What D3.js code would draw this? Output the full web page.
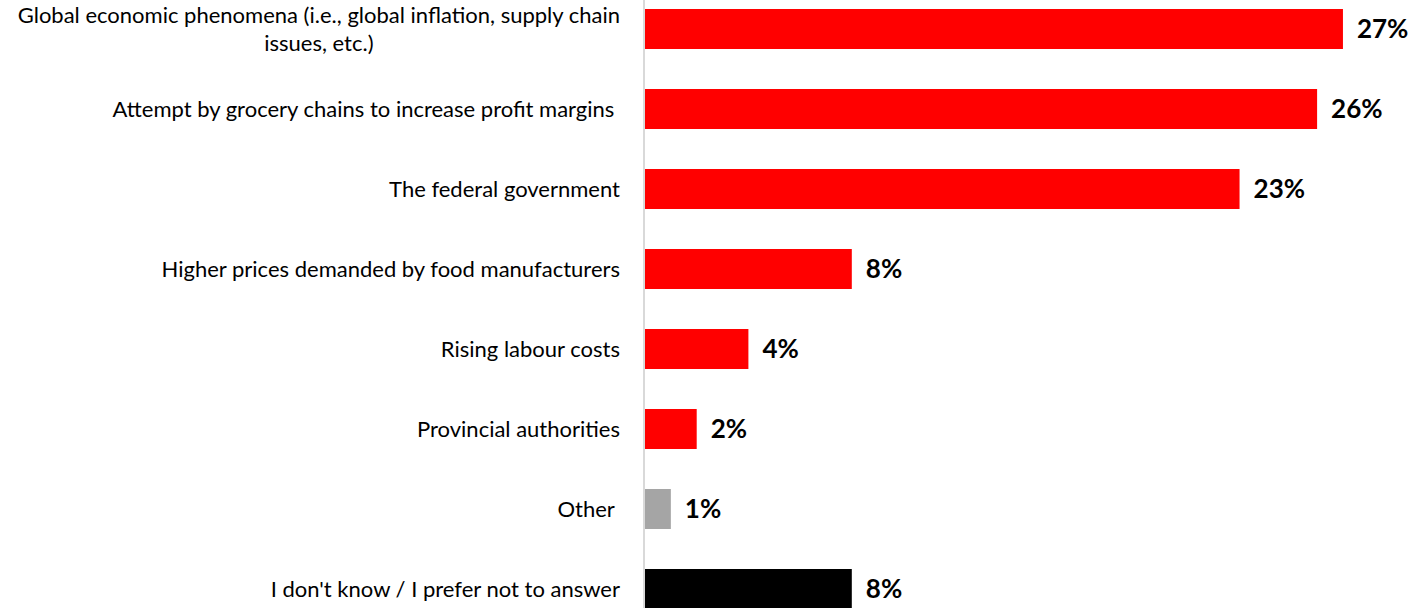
<!DOCTYPE html>
<html>
<head>
<meta charset="utf-8">
<script src="https://cdn.jsdelivr.net/npm/d3@7"></script>
<style>
  html, body { margin: 0; padding: 0; background: #fff; }
  svg { display: block; }
  text { font-family: Lato, "Open Sans", sans-serif; white-space: pre; }
</style>
</head>
<body>
<svg id="chart" width="1409" height="608"></svg>
<script>
// Survey responses: what is driving grocery prices
const categories = [
  "Global economic phenomena (i.e., global inflation, supply chain issues, etc.)",
  "Attempt by grocery chains to increase profit margins ",
  "The federal government",
  "Higher prices demanded by food manufacturers",
  "Rising labour costs",
  "Provincial authorities",
  "Other ",
  "I don't know / I prefer not to answer"
];
const values = [27, 26, 23, 8, 4, 2, 1, 8];
const valueLabels = ["27%", "26%", "23%", "8%", "4%", "2%", "1%", "8%"];
const barColors = ["#ff0000", "#ff0000", "#ff0000", "#ff0000", "#ff0000", "#ff0000", "#a5a5a5", "#000000"];

const W = 1409, H = 608;
const axisX = 644;
const svg = d3.select("#chart");

const y = d3.scaleBand()
  .domain(categories)
  .range([-11, 629])
  .paddingInner(0.5)
  .paddingOuter(0.25);

const x = d3.scaleLinear()
  .domain([0, 30])
  .range([axisX + 1, axisX + 1 + 775.5]);

// Bars
svg.append("g")
  .selectAll("rect")
  .data(categories)
  .join("rect")
  .attr("x", x(0))
  .attr("y", d => y(d))
  .attr("width", (d, i) => x(values[i]) - x(0))
  .attr("height", y.bandwidth())
  .attr("fill", (d, i) => barColors[i]);

// Category axis (line only; labels drawn below with wrapping)
const axis = svg.append("g")
  .attr("transform", `translate(${axisX},0)`)
  .call(d3.axisLeft(y).tickSize(0).tickFormat(""));
axis.select(".domain")
  .attr("d", `M0,0V${H}`)
  .attr("stroke", "#d9d9d9")
  .attr("stroke-width", 2);

// Category labels, wrapped to the space left of the axis
const labelRight = axisX - 24;
const maxWidth = 620;
const labelG = svg.append("g").attr("font-size", 22).attr("fill", "#000");

categories.forEach(cat => {
  const cy = y(cat) + y.bandwidth() / 2;
  const t = labelG.append("text").attr("text-anchor", "end");
  // Break into lines that fit
  const words = cat.split(" ");
  const lines = [];
  let line = "";
  const probe = labelG.append("text");
  words.forEach(w => {
    const test = line ? line + " " + w : w;
    probe.text(test);
    if (probe.node().getComputedTextLength() > maxWidth && line) {
      lines.push(line);
      line = w;
    } else {
      line = test;
    }
  });
  lines.push(line);
  const widths = lines.map(l => { probe.text(l); return probe.node().getComputedTextLength(); });
  probe.remove();
  const lineH = 28;
  if (lines.length === 1) {
    t.attr("x", labelRight).attr("y", cy).attr("dy", "0.35em").text(lines[0]);
  } else {
    const cx = labelRight - d3.max(widths) / 2;
    t.attr("text-anchor", "middle");
    lines.forEach((l, k) => {
      t.append("tspan")
        .attr("x", cx)
        .attr("y", cy + (k - (lines.length - 1) / 2) * lineH)
        .attr("dy", "0.35em")
        .text(l);
    });
  }
});

// Value labels
svg.append("g")
  .attr("font-size", 26)
  .attr("font-weight", "bold")
  .attr("fill", "#000")
  .selectAll("text")
  .data(categories)
  .join("text")
  .attr("x", (d, i) => x(values[i]) + 14)
  .attr("y", d => y(d) + y.bandwidth() / 2)
  .attr("dy", "0.36em")
  .text((d, i) => valueLabels[i]);
</script>
</body>
</html>
